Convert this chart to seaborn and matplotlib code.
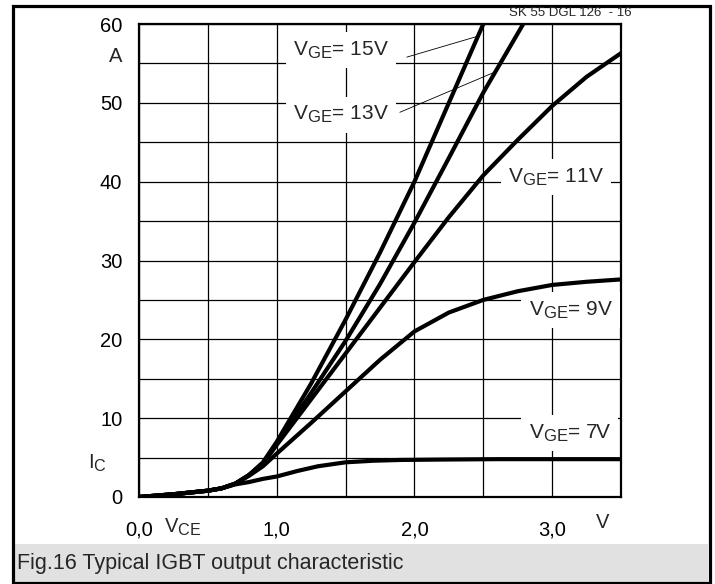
import numpy as np
import pandas as pd
import matplotlib
matplotlib.use("Agg")
import matplotlib.pyplot as plt
from matplotlib.patches import Rectangle
import seaborn as sns

try:
    # slightly larger subscripts than the mathtext default
    import matplotlib._mathtext as _mt
    _mt.SHRINK_FACTOR = 0.8
except Exception:
    pass

# Output characteristic I_C = f(V_CE) for several gate voltages
vge7_v = [0, 0.25, 0.5, 0.6, 0.7, 0.8, 0.9, 1.0, 1.15, 1.3, 1.5, 1.7, 1.9, 2.2, 2.6, 3.0, 3.5]
vge7_i = [0, 0.35, 0.8, 1.1, 1.6, 1.9, 2.3, 2.6, 3.3, 3.9, 4.4, 4.6, 4.7, 4.75, 4.8, 4.8, 4.8]

vge9_v = [0, 0.25, 0.5, 0.6, 0.7, 0.8, 0.9, 1.0, 1.25, 1.5, 1.75, 2.0, 2.25, 2.5, 2.75, 3.0, 3.25, 3.5]
vge9_i = [0, 0.35, 0.8, 1.1, 1.7, 2.7, 3.9, 5.5, 9.4, 13.4, 17.4, 21.0, 23.4, 25.0, 26.1, 26.9, 27.3, 27.6]

vge11_v = [0, 0.25, 0.5, 0.6, 0.7, 0.8, 0.9, 1.0, 1.25, 1.5, 1.75, 2.0, 2.25, 2.5, 2.75, 3.0, 3.25, 3.5]
vge11_i = [0, 0.35, 0.8, 1.1, 1.7, 2.8, 4.2, 6.6, 12.4, 18.2, 24.0, 29.8, 35.5, 40.8, 45.3, 49.6, 53.3, 56.3]

vge13_v = [0, 0.25, 0.5, 0.6, 0.7, 0.8, 0.9, 1.0, 1.25, 1.5, 1.75, 2.0, 2.25, 2.5, 2.79]
vge13_i = [0, 0.35, 0.8, 1.1, 1.7, 2.8, 4.3, 6.8, 13.2, 19.8, 27.0, 34.8, 43.0, 51.3, 60.0]

vge15_v = [0, 0.25, 0.5, 0.6, 0.7, 0.8, 0.9, 1.0, 1.25, 1.5, 1.75, 2.0, 2.25, 2.5]
vge15_i = [0, 0.35, 0.8, 1.1, 1.7, 2.8, 4.4, 7.0, 14.4, 22.5, 31.0, 40.0, 50.0, 60.0]

gate_labels = ["7V", "9V", "11V", "13V", "15V"]

x_ticks = [0.0, 1.0, 2.0, 3.0]
x_tick_labels = ["0,0", "1,0", "2,0", "3,0"]
y_ticks = [0, 10, 20, 30, 40, 50, 60]
y_tick_labels = ["0", "10", "20", "30", "40", "50", "60"]

caption = "Fig.16 Typical IGBT output characteristic"
header = "SK 55 DGL 126  - 16"

frames = []
for name, v, i in zip(gate_labels,
                      [vge7_v, vge9_v, vge11_v, vge13_v, vge15_v],
                      [vge7_i, vge9_i, vge11_i, vge13_i, vge15_i]):
    frames.append(pd.DataFrame({"V_CE": v, "I_C": i, "V_GE": name}))
df = pd.concat(frames, ignore_index=True)

sns.set_style("white")
plt.rcParams["font.family"] = ["Liberation Sans", "DejaVu Sans"]
plt.rcParams["mathtext.default"] = "regular"

W, H = 715, 584
fig = plt.figure(figsize=(W / 100, H / 100), dpi=100)


def fx(px):
    return px / W


def fy(py):
    return 1 - py / H


# outer frame and caption band
fig.patches.append(Rectangle((fx(14), fy(583)), fx(708) - fx(14), fy(544) - fy(583),
                             transform=fig.transFigure, facecolor="#e1e1e1",
                             edgecolor="none", zorder=0))
fig.patches.append(Rectangle((fx(12.5), fy(583)), fx(709.5) - fx(12.5), fy(5.5) - fy(583),
                             transform=fig.transFigure, facecolor="none",
                             edgecolor="black", linewidth=2.3, zorder=1))

ax = fig.add_axes([fx(139), fy(497), fx(621) - fx(139), fy(24) - fy(497)])
ax.set_facecolor("white")

sns.lineplot(data=df, x="V_CE", y="I_C", hue="V_GE", units="V_GE", estimator=None,
             palette={g: "black" for g in gate_labels}, legend=False,
             linewidth=3.0, ax=ax, zorder=5, sort=False)
for ln in ax.lines:
    ln.set_solid_capstyle("butt")
    ln.set_solid_joinstyle("round")

ax.set_xlim(0, 3.5)
ax.set_ylim(0, 60)

# grid every 0.5 V and 5 A
ax.set_xticks(np.arange(0, 3.51, 0.5))
ax.set_xticklabels([x_tick_labels[x_ticks.index(t)] if t in x_ticks else ""
                    for t in np.arange(0, 3.51, 0.5)])
ax.set_yticks(np.arange(0, 60.1, 5))
ax.set_yticklabels([y_tick_labels[y_ticks.index(t)] if t in y_ticks else ""
                    for t in np.arange(0, 60.1, 5)])
ax.grid(True, color="black", linewidth=0.9)
ax.set_axisbelow(True)
ax.tick_params(axis="both", length=0, labelsize=14.5, colors="black")
ax.tick_params(axis="y", pad=12)
ax.tick_params(axis="x", pad=17)
for s in ax.spines.values():
    s.set_color("black")
    s.set_linewidth(1.6)
ax.set_xlabel("")
ax.set_ylabel("")

# curve labels with white boxes over the grid
box = dict(facecolor="white", edgecolor="none", boxstyle="square,pad=0.35")
label_pos = {"15V": (1.12, 56.7), "13V": (1.12, 48.5), "11V": (2.68, 40.6),
             "9V": (2.83, 23.7), "7V": (2.83, 8.1)}
for g, (x, y) in label_pos.items():
    ax.text(x, y, "V$_{GE}$= " + g, fontsize=15, ha="left", va="center",
            bbox=box, zorder=3)

# leader lines to the 15 V and 13 V curves
ax.plot([1.945, 2.47], [55.8, 58.5], color="black", linewidth=0.6, zorder=4)
ax.plot([1.894, 2.57], [48.8, 53.8], color="black", linewidth=0.6, zorder=4)

# axis names and units
fig.text(fx(116), fy(57), "A", fontsize=14.5, ha="center", va="center")
fig.text(fx(88), fy(463), "I$_C$", fontsize=14.5, ha="left", va="center")
fig.text(fx(164), fy(527), "V$_{CE}$", fontsize=14.5, ha="left", va="center")
fig.text(fx(603), fy(522), "V", fontsize=14.5, ha="center", va="center")

fig.text(fx(17), fy(564), caption, fontsize=15.5, ha="left", va="center")
fig.text(fx(632), fy(13), header, fontsize=9.5, ha="right", va="center")

fig.savefig("out.png", dpi=100, facecolor="white")
